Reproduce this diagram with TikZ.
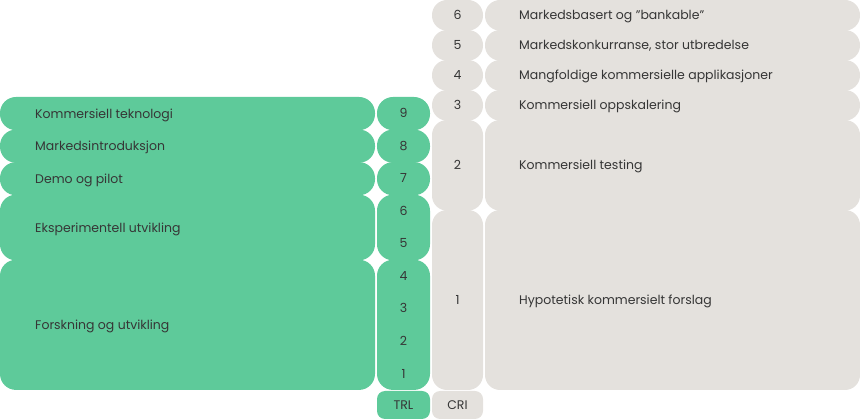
\documentclass[tikz,border=0pt]{standalone}
\usepackage{fontspec}
\setmainfont{Poppins}
\definecolor{trlgreen}{HTML}{5ECA9A}
\definecolor{crigrey}{HTML}{E4E1DD}
\definecolor{txtc}{HTML}{363636}
% \rbox{x}{ytop}{w}{h}{r}{colour}  (ytop measured down from the top edge)
\newcommand\rbox[6]{%
  \fill[#6] ({#1+#5},{420-#2}) -- ({#1+#3-#5},{420-#2})
    arc[start angle=90,end angle=0,radius=#5]
    -- ({#1+#3},{420-#2-#4+#5})
    arc[start angle=0,end angle=-90,radius=#5]
    -- ({#1+#5},{420-#2-#4})
    arc[start angle=-90,end angle=-180,radius=#5]
    -- ({#1},{420-#2-#5})
    arc[start angle=180,end angle=90,radius=#5] -- cycle;}
\begin{document}
\begin{tikzpicture}[x=1pt,y=1pt,
  lbl/.style={anchor=base west, inner sep=0pt, text=txtc, font=\fontsize{12.5}{14}\selectfont},
  num/.style={anchor=base, inner sep=0pt, text=txtc, font=\fontsize{12.5}{14}\selectfont}]
\useasboundingbox (0,0) rectangle (860,420);
% ---- green left boxes ----
\rbox{0}{97}{375}{33.2}{16}{trlgreen}
\rbox{0}{129.55}{375}{33.2}{16}{trlgreen}
\rbox{0}{162.1}{375}{33.2}{16}{trlgreen}
\rbox{0}{194.65}{375}{65.7}{16}{trlgreen}
\rbox{0}{259.75}{375}{130.2}{16}{trlgreen}
% ---- TRL column ----
\rbox{377}{97}{53}{33.2}{16}{trlgreen}
\rbox{377}{129.55}{53}{33.2}{16}{trlgreen}
\rbox{377}{162.1}{53}{33.2}{16}{trlgreen}
\rbox{377}{194.65}{53}{65.7}{16}{trlgreen}
\rbox{377}{259.75}{53}{130.2}{16}{trlgreen}
% ---- CRI column ----
\rbox{432}{0}{51}{30.6}{15}{crigrey}
\rbox{432}{30}{51}{30.6}{15}{crigrey}
\rbox{432}{60}{51}{30.6}{15}{crigrey}
\rbox{432}{90}{51}{30.6}{15}{crigrey}
\rbox{432}{120}{51}{90.6}{15}{crigrey}
\rbox{432}{210}{51}{180}{15}{crigrey}
% ---- grey right boxes ----
\rbox{485}{0}{375}{30.6}{15}{crigrey}
\rbox{485}{30}{375}{30.6}{15}{crigrey}
\rbox{485}{60}{375}{30.6}{15}{crigrey}
\rbox{485}{90}{375}{30.6}{15}{crigrey}
\rbox{485}{120}{375}{90.6}{15}{crigrey}
\rbox{485}{210}{375}{180}{15}{crigrey}
% ---- bottom tags ----
\rbox{377}{391}{53}{28}{8}{trlgreen}
\rbox{432}{391}{51}{28}{8}{crigrey}
\node[num] (TRLt) at (403.5,{420-409.4}) {TRL};
\node[num] (CRIt) at (457.5,{420-409.4}) {CRI};
% ---- left labels ----
\node[lbl] (l9) at (35,{420-118.2}) {Kommersiell teknologi};
\node[lbl] (l8) at (35,{420-150.7}) {Markedsintroduksjon};
\node[lbl] (l7) at (35,{420-183.3}) {Demo og pilot};
\node[lbl] (l65) at (35,{420-232.1}) {Eksperimentell utvikling};
\node[lbl] (l41) at (35,{420-329.8}) {Forskning og utvikling};
% ---- TRL numbers ----
\node[num] (n9) at (403.5,{420-117.7}) {9};
\node[num] (n8) at (403.5,{420-150.2}) {8};
\node[num] (n7) at (403.5,{420-182.8}) {7};
\node[num] (n6) at (403.5,{420-215.3}) {6};
\node[num] (n5) at (403.5,{420-247.9}) {5};
\node[num] (n4) at (403.5,{420-280.4}) {4};
\node[num] (n3) at (403.5,{420-313.0}) {3};
\node[num] (n2) at (403.5,{420-345.5}) {2};
\node[num] (n1) at (403.5,{420-378.1}) {1};
% ---- CRI numbers ----
\node[num] (c6) at (457.5,{420-19.4}) {6};
\node[num] (c5) at (457.5,{420-49.4}) {5};
\node[num] (c4) at (457.5,{420-79.4}) {4};
\node[num] (c3) at (457.5,{420-109.4}) {3};
\node[num] (c2) at (457.5,{420-169.4}) {2};
\node[num] (c1) at (457.5,{420-304.4}) {1};
% ---- right labels ----
\node[lbl] (r6) at (519,{420-19.9}) {Markedsbasert og "bankable"};
\node[lbl] (r5) at (519,{420-49.9}) {Markedskonkurranse, stor utbredelse};
\node[lbl] (r4) at (519,{420-79.9}) {Mangfoldige kommersielle applikasjoner};
\node[lbl] (r3) at (519,{420-109.9}) {Kommersiell oppskalering};
\node[lbl] (r2) at (519,{420-169.9}) {Kommersiell testing};
\node[lbl] (r1) at (519,{420-304.9}) {Hypotetisk kommersielt forslag};
\end{tikzpicture}
\end{document}
